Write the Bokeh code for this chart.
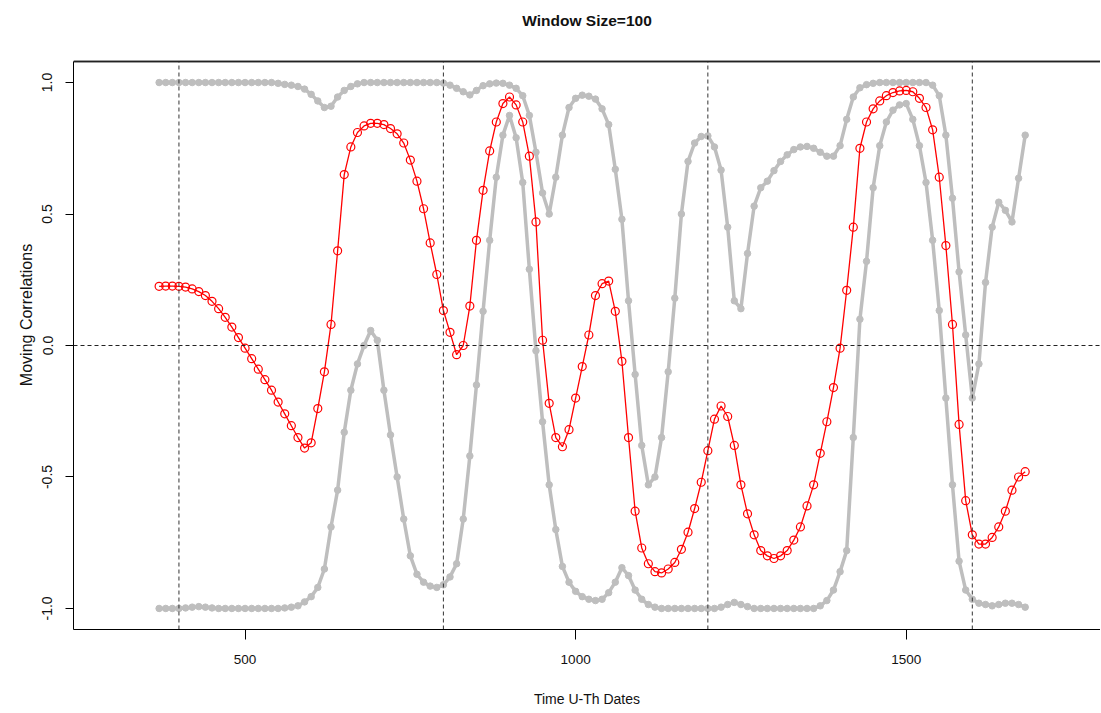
from bokeh.plotting import figure
from bokeh.models import Range1d, FixedTicker, PrintfTickFormatter, Span
from bokeh.core.properties import value
from bokeh.embed import file_html
from bokeh.resources import INLINE

# ---- data ----
dates = [370, 380, 390, 400, 410, 420, 430, 440, 450, 460,
         470, 480, 490, 500, 510, 520, 530, 540, 550, 560,
         570, 580, 590, 600, 610, 620, 630, 640, 650, 660,
         670, 680, 690, 700, 710, 720, 730, 740, 750, 760,
         770, 780, 790, 800, 810, 820, 830, 840, 850, 860,
         870, 880, 890, 900, 910, 920, 930, 940, 950, 960,
         970, 980, 990, 1000, 1010, 1020, 1030, 1040, 1050, 1060,
         1070, 1080, 1090, 1100, 1110, 1120, 1130, 1140, 1150, 1160,
         1170, 1180, 1190, 1200, 1210, 1220, 1230, 1240, 1250, 1260,
         1270, 1280, 1290, 1300, 1310, 1320, 1330, 1340, 1350, 1360,
         1370, 1380, 1390, 1400, 1410, 1420, 1430, 1440, 1450, 1460,
         1470, 1480, 1490, 1500, 1510, 1520, 1530, 1540, 1550, 1560,
         1570, 1580, 1590, 1600, 1610, 1620, 1630, 1640, 1650, 1660,
         1670, 1680]

corr = [0.225, 0.226, 0.226, 0.225, 0.222, 0.215, 0.205, 0.19, 0.168, 0.14,
        0.107, 0.07, 0.03, -0.01, -0.05, -0.09, -0.13, -0.17, -0.215, -0.26,
        -0.305, -0.35, -0.39, -0.37, -0.24, -0.1, 0.08, 0.36, 0.65, 0.755,
        0.81, 0.835, 0.845, 0.845, 0.84, 0.825, 0.805, 0.77, 0.705, 0.625,
        0.52, 0.39, 0.27, 0.133, 0.05, -0.035, 0.0, 0.15, 0.4, 0.59,
        0.74, 0.85, 0.92, 0.945, 0.915, 0.85, 0.72, 0.47, 0.02, -0.22,
        -0.35, -0.385, -0.32, -0.2, -0.08, 0.04, 0.19, 0.235, 0.245, 0.13,
        -0.06, -0.35, -0.63, -0.77, -0.83, -0.86, -0.865, -0.85, -0.825, -0.775,
        -0.71, -0.62, -0.52, -0.4, -0.28, -0.23, -0.27, -0.38, -0.53, -0.64,
        -0.72, -0.78, -0.8, -0.81, -0.8, -0.78, -0.74, -0.69, -0.61, -0.53,
        -0.41, -0.29, -0.16, -0.01, 0.21, 0.45, 0.75, 0.85, 0.9, 0.93,
        0.95, 0.962, 0.968, 0.97, 0.965, 0.94, 0.905, 0.82, 0.64, 0.38,
        0.08, -0.3, -0.59, -0.72, -0.755, -0.755, -0.73, -0.69, -0.63, -0.55,
        -0.5, -0.48]

upper = [1.0, 1.0, 1.0, 1.0, 1.0, 1.0, 1.0, 1.0, 1.0, 1.0,
         1.0, 1.0, 1.0, 1.0, 1.0, 1.0, 1.0, 1.0, 0.997, 0.993,
         0.99, 0.985, 0.975, 0.955, 0.93, 0.905, 0.91, 0.945, 0.97, 0.985,
         0.995, 1.0, 1.0, 1.0, 1.0, 1.0, 1.0, 1.0, 1.0, 1.0,
         1.0, 1.0, 1.0, 0.998, 0.99, 0.978, 0.965, 0.953, 0.97, 0.988,
         0.995, 0.998, 0.997, 0.99, 0.978, 0.95, 0.875, 0.735, 0.58, 0.5,
         0.64, 0.8, 0.905, 0.94, 0.952, 0.948, 0.937, 0.9, 0.84, 0.67,
         0.48, 0.17, -0.11, -0.38, -0.53, -0.5, -0.35, -0.1, 0.18, 0.5,
         0.7, 0.77, 0.795, 0.797, 0.755, 0.667, 0.45, 0.17, 0.14, 0.35,
         0.53, 0.6, 0.625, 0.665, 0.7, 0.725, 0.745, 0.755, 0.757, 0.75,
         0.735, 0.72, 0.72, 0.76, 0.86, 0.945, 0.98, 0.992, 0.997, 1.0,
         1.0, 1.0, 1.0, 1.0, 1.0, 1.0, 1.0, 0.99, 0.95, 0.8,
         0.56, 0.28, 0.04, -0.2, -0.07, 0.24, 0.45, 0.545, 0.514, 0.47,
         0.636, 0.8]

lower = [-1.0, -1.0, -1.0, -1.0, -0.998, -0.995, -0.993, -0.995, -0.998, -1.0,
         -1.0, -1.0, -1.0, -1.0, -1.0, -1.0, -1.0, -1.0, -1.0, -0.998,
         -0.995, -0.99, -0.975, -0.955, -0.92, -0.85, -0.69, -0.55, -0.33, -0.17,
         -0.07, 0.0, 0.057, 0.02, -0.17, -0.34, -0.5, -0.66, -0.8, -0.87,
         -0.9, -0.915, -0.92, -0.91, -0.88, -0.83, -0.66, -0.42, -0.15, 0.13,
         0.4, 0.64, 0.8, 0.875, 0.79, 0.62, 0.29, -0.02, -0.29, -0.53,
         -0.7, -0.84, -0.9, -0.935, -0.955, -0.965, -0.97, -0.965, -0.94, -0.9,
         -0.845, -0.875, -0.93, -0.965, -0.985, -0.995, -1.0, -1.0, -1.0, -1.0,
         -1.0, -1.0, -1.0, -1.0, -1.0, -0.995, -0.985, -0.977, -0.985, -0.993,
         -1.0, -1.0, -1.0, -1.0, -1.0, -1.0, -1.0, -1.0, -1.0, -1.0,
         -0.99, -0.97, -0.93, -0.86, -0.78, -0.35, 0.1, 0.32, 0.6, 0.76,
         0.85, 0.895, 0.915, 0.92, 0.86, 0.76, 0.62, 0.4, 0.133, -0.2,
         -0.53, -0.82, -0.93, -0.965, -0.98, -0.985, -0.99, -0.985, -0.98, -0.98,
         -0.985, -0.995]

vlines = [400, 800, 1200, 1600]
hlines = [0]
xticks = [500, 1000, 1500]
yticks = [-1.0, -0.5, 0.0, 0.5, 1.0]
title_text = "Window Size=100"

GREY = "#BEBEBE"
SANS = "Liberation Sans"

# ---- layout geometry (pixels) ----
W, H = 1100, 712
LEFT, BOTTOM = 73, 83
BOX_TOP_PX = 61          # where the plot box top should be (from canvas top)
TITLE_PX = 20            # title centre (from canvas top)
Y_LO, Y_HI = -1.08, 1.08
X_LO, X_HI = 240.5, 1793.9

box_h = (H - BOTTOM) - BOX_TOP_PX
per_px = (Y_HI - Y_LO) / box_h
y_frame_top = Y_HI + BOX_TOP_PX * per_px   # frame runs to the canvas top
title_y = Y_HI + (BOX_TOP_PX - TITLE_PX) * per_px

p = figure(width=W, height=H, output_backend="svg", toolbar_location=None,
           title=None,
           x_range=Range1d(X_LO, X_HI), y_range=Range1d(Y_LO, y_frame_top),
           min_border_left=LEFT, min_border_right=0, min_border_top=0,
           min_border_bottom=BOTTOM,
           x_axis_label="Time U-Th Dates", y_axis_label="Moving Correlations")
p.outline_line_color = None
p.grid.visible = False

# top side of the box
p.line(x=[X_LO, X_HI], y=[Y_HI, Y_HI], line_color="#222222", line_width=1.5)
p.add_layout(Span(location=Y_HI, dimension="width", line_color="#222222", line_width=1.5))

# grey bounds
for ser in (upper, lower):
    p.line(dates, ser, line_color=GREY, line_width=3.5)
    p.scatter(dates, ser, marker="circle", size=6.5, fill_color=GREY, line_color=GREY)

# red moving correlation
p.line(dates, corr, line_color="red", line_width=1.3)
p.scatter(dates, corr, marker="circle", size=8, fill_color=None,
          line_color="red", line_width=1.2)

# dashed reference lines
p.segment(x0=vlines, y0=[Y_LO] * len(vlines), x1=vlines, y1=[Y_HI] * len(vlines),
          line_color="#333333", line_dash="4 3", line_width=1)
for h in hlines:
    p.add_layout(Span(location=h, dimension="width", line_color="#222222",
                      line_dash="4 3", line_width=1))

# title
p.text(x=[(X_LO + X_HI) / 2], y=[title_y], text=[title_text],
       text_align="center", text_baseline="middle",
       text_font=value(SANS), text_font_size="15.5px", text_font_style="bold",
       text_color="#111111")

# axes
p.xaxis.ticker = FixedTicker(ticks=xticks)
p.yaxis.ticker = FixedTicker(ticks=yticks)
p.yaxis.bounds = (Y_LO, Y_HI)
p.yaxis.formatter = PrintfTickFormatter(format="%.1f")
p.yaxis.major_label_orientation = "vertical"
for ax in (p.xaxis[0], p.yaxis[0]):
    ax.axis_line_color = "black"
    ax.major_tick_line_color = "black"
    ax.minor_tick_line_color = None
    ax.major_tick_in = 0
    ax.major_label_text_color = "#111111"
    ax.axis_label_text_color = "#111111"
    ax.axis_label_text_font_style = "normal"
    ax.major_label_text_font = SANS
    ax.axis_label_text_font = SANS
p.xaxis.major_tick_out = 10
p.yaxis.major_tick_out = 8
p.xaxis.major_label_text_font_size = "13.5px"
p.xaxis.major_label_standoff = 15
p.xaxis.axis_label_text_font_size = "14px"
p.xaxis.axis_label_standoff = 24
p.yaxis.major_label_text_font_size = "14px"
p.yaxis.major_label_standoff = 13
p.yaxis.axis_label_text_font_size = "16px"
p.yaxis.axis_label_standoff = 5

open("out.html", "w").write(file_html(p, INLINE))
